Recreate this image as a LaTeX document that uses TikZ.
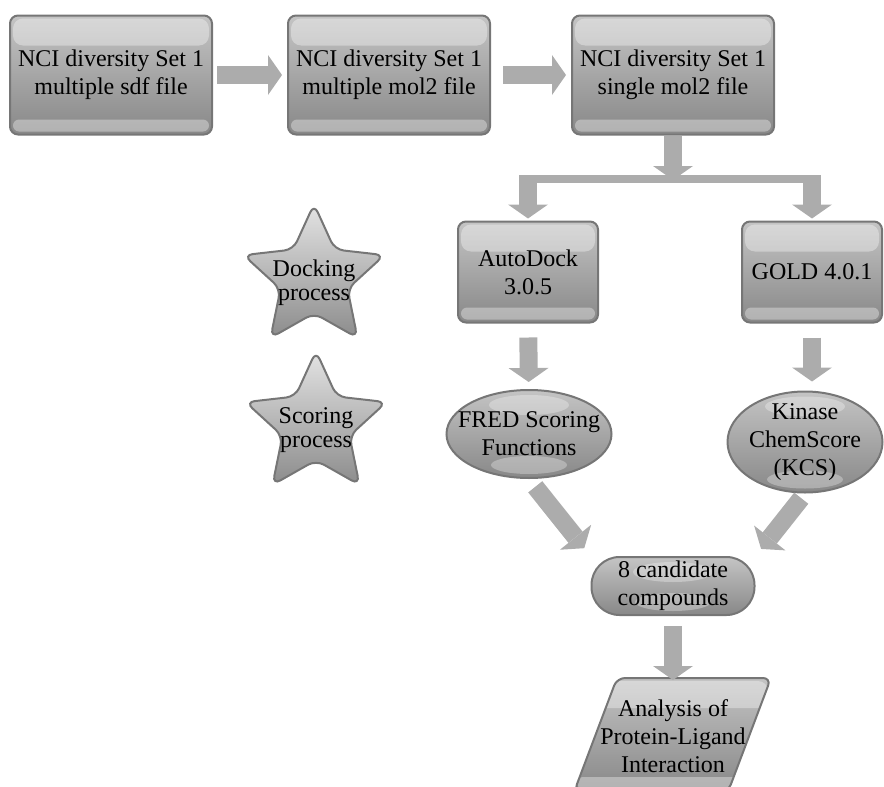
\documentclass[tikz,border=0pt]{standalone}
\usepackage{fontspec}
\setmainfont{Liberation Serif}
\usetikzlibrary{shapes.geometric,arrows.meta}
\definecolor{boxtop}{RGB}{196,196,196}
\definecolor{boxbot}{RGB}{136,136,136}
\definecolor{boxline}{RGB}{118,118,118}
\definecolor{arrfill}{RGB}{172,172,172}
\definecolor{startop}{RGB}{228,228,228}
\definecolor{starbot}{RGB}{140,140,140}

\begin{document}
\begin{tikzpicture}
[x=1pt, y=-1pt, font=\fontsize{24}{28}\selectfont,
gloss/.style={path picture={
  \fill[white, opacity=0.35, rounded corners=10pt]
    ([shift={(3pt,-3pt)}]path picture bounding box.north west) rectangle
    ([shift={(-3pt,-30pt)}]path picture bounding box.north east);
  \fill[white, opacity=0.35, rounded corners=6pt]
    ([shift={(3pt,3pt)}]path picture bounding box.south west) rectangle
    ([shift={(-3pt,15pt)}]path picture bounding box.south east);}},
ovalgloss/.style={path picture={
  \fill[white, opacity=0.3] ([yshift=-15pt]path picture bounding box.north) ellipse [x radius=40pt, y radius=10pt];
  \fill[white, opacity=0.3] ([yshift=13pt]path picture bounding box.south) ellipse [x radius=38pt, y radius=9pt];}},
procbox/.style={rectangle, rounded corners=8pt, draw=boxline, line width=2pt, top color=boxtop, bottom color=boxbot, align=center, inner sep=0pt, gloss},
nciset/.style={procbox, minimum width=202pt, minimum height=119pt},
dockbox/.style={procbox, minimum width=140pt, minimum height=101pt},
scoreoval/.style={ellipse, draw=boxline, line width=2pt, top color=boxtop, bottom color=boxbot, inner sep=0pt, ovalgloss},
pill/.style={rectangle, rounded corners=28pt, draw=boxline, line width=2pt, top color=boxtop, bottom color=boxbot, align=center, inner sep=0pt, minimum width=163pt, minimum height=58pt, ovalgloss},
slanted/.style={rounded corners=8pt, draw=boxline, line width=2pt, top color=boxtop, bottom color=boxbot, gloss},
marker/.style={star, star points=5, star point ratio=2.1, rounded corners=9pt, draw=boxline, line width=2pt, top color=startop, bottom color=starbot, inner sep=0pt, minimum size=148pt},
txt/.style={align=center, inner sep=0pt},
startxt/.style={txt, font=\fontsize{24}{24}\selectfont},
blockarr/.style={draw=arrfill, line width=18pt, -{Triangle[length=14pt, width=40pt, line width=0pt]}, shorten <=4pt, shorten >=6pt},
bus/.style={draw=arrfill, line width=8pt}]

\useasboundingbox (0,0) rectangle (884,787);

\node[nciset] (nci1) at (111,75) {NCI diversity Set 1\\multiple sdf file};
\node[nciset] (nci2) at (389,75) {NCI diversity Set 1\\multiple mol2 file};
\node[nciset] (nci3) at (673,75) {NCI diversity Set 1\\single mol2 file};

\node[dockbox] (autodock) at (528,272) {AutoDock\\3.0.5};
\node[dockbox] (gold) at (812,272) {GOLD 4.0.1};

\node[marker] (docking) at (314,278) {};
\node[startxt] (dockinglbl) at (314,283) {Docking\\process};
\node[marker] (scoring) at (316,425) {};
\node[startxt] (scoringlbl) at (316,430) {Scoring\\process};

\node[scoreoval, minimum width=165pt, minimum height=88pt] (fred) at (529,434) {};
\node[txt] (fredlbl) at (fred) {FRED Scoring\\Functions};
\node[scoreoval, minimum width=155pt, minimum height=101pt] (kcs) at (805,442) {};
\node[txt] (kcslbl) at (kcs) {Kinase\\ChemScore\\(KCS)};

\node[pill] (cand) at (673,586) {8 candidate\\compounds};
\path[slanted] (574,792) -- (617,678) -- (771,678) -- (728,792) -- cycle;
\node[txt] (analysis) at (673,736) {Analysis of\\Protein-Ligand\\Interaction};

% top row
\draw[blockarr, shorten <=4pt, shorten >=5pt] (nci1) -- (nci2);
\draw[blockarr, shorten <=12pt, shorten >=5pt] (nci2) -- (nci3);

% split to the two docking programs
\coordinate (busL) at (529,179);
\coordinate (busR) at (812,179);
\draw[bus] (busL) -- (busR);
\draw[blockarr, shorten <=0pt, shorten >=-1pt] (nci3) -- (nci3 |- busL);
\foreach \t in {autodock, gold}
  \draw[blockarr, shorten <=-4pt, shorten >=2pt] (\t |- busL) -- (\t);

% scoring
\draw[blockarr, shorten <=14pt, shorten >=7pt] (autodock) -- (fred);
\draw[blockarr, shorten <=14pt, shorten >=9pt] (gold.south) -- (gold.south |- kcs.north);

\draw[blockarr, shorten <=10pt, shorten >=10pt] (fred.south) -- (cand.north west);
\draw[blockarr, shorten <=6pt, shorten >=9pt] (kcs.south) -- (cand.north east);
\draw[blockarr, shorten <=10pt, shorten >=-2pt] (cand) -- (analysis.north |- 0,678);
\end{tikzpicture}
\end{document}
